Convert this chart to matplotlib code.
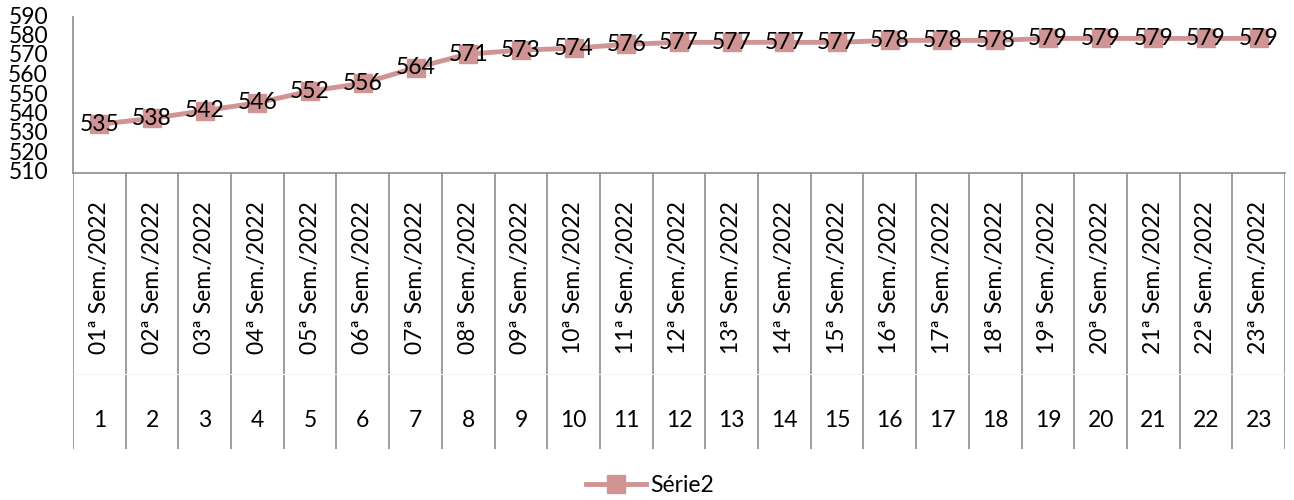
import matplotlib.pyplot as plt

plt.rcParams['font.family'] = ['Lato', 'DejaVu Sans']

semanas = [f"{i:02d}ª Sem./2022" for i in range(1, 24)]
numeros = list(range(1, 24))
serie2 = [535, 538, 542, 546, 552, 556, 564, 571, 573, 574, 576, 577,
          577, 577, 577, 578, 578, 578, 579, 579, 579, 579, 579]

LINE_COLOR = "#D19494"
AXIS_COLOR = "#8C8C8C"
FS = 16.5

W, H = 1294, 500
fig = plt.figure(figsize=(W / 100, H / 100), dpi=100)

left, right = 73 / W, 1285 / W
top_px, base_px, cat_px = 17, 173, 449
ax = fig.add_axes([left, 1 - base_px / H, right - left, (base_px - top_px) / H])
axc = fig.add_axes([left, 1 - cat_px / H, right - left, (cat_px - base_px) / H])

ax.plot(numeros, serie2, color=LINE_COLOR, lw=3.5, marker="s", ms=13,
        mec=LINE_COLOR, mfc=LINE_COLOR, label="Série2", zorder=3)
for x, v in zip(numeros, serie2):
    ax.text(x, v, str(v), ha="center", va="center", fontsize=FS, zorder=4)

ax.set_xlim(0.5, len(numeros) + 0.5)
ax.set_ylim(510, 590)
ax.set_yticks(range(510, 591, 10))
ax.tick_params(axis="y", length=0, labelsize=FS, pad=18)
ax.set_xticks([])
for s in ["top", "right"]:
    ax.spines[s].set_visible(False)
for s in ["left", "bottom"]:
    ax.spines[s].set_color(AXIS_COLOR)
    ax.spines[s].set_linewidth(1.2)
for lab in ax.get_yticklabels():
    lab.set_verticalalignment("center")

# category axis (two levels)
axc.set_xlim(ax.get_xlim())
axc.set_ylim(0, 1)
axc.axis("off")
axc.vlines([k + 0.5 for k in range(len(numeros) + 1)], 0, 1,
           color=AXIS_COLOR, lw=1.2)
axc.hlines(0.27, 0.5, len(numeros) + 0.5, color="#F4F4F4", lw=0.8)
for x, sem, n in zip(numeros, semanas, numeros):
    axc.text(x, 0.62, sem, rotation=90, ha="center", va="center", fontsize=FS)
    axc.text(x, 0.105, str(n), ha="center", va="center", fontsize=FS)

fig.legend(*ax.get_legend_handles_labels(), loc="center",
           bbox_to_anchor=(650 / W, 1 - 486 / H), frameon=False,
           fontsize=FS, handlelength=2.6, handletextpad=0.2)

fig.savefig("out.png", dpi=100)
